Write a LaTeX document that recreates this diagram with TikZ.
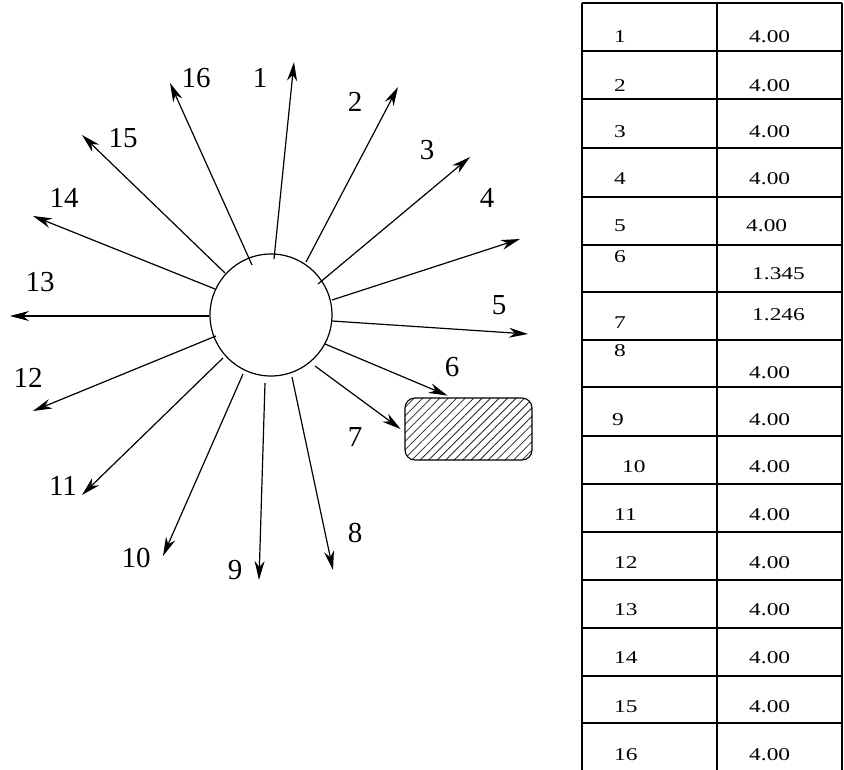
\documentclass[tikz,border=0pt]{standalone}
\usepackage{fontspec}
\setmainfont{Liberation Serif}
\usepackage{graphicx}
\usepackage{tikz}
\usetikzlibrary{arrows.meta, patterns.meta, calc}
\tikzset{
  ray/.style={-{Stealth[length=19pt, width=10pt, inset=6pt]}, line width=1.2pt},
  num/.style={font=\fontsize{29}{29}\selectfont, inner sep=0pt},
  cell/.style={font=\fontsize{18}{18}\selectfont, inner sep=0pt, anchor=west},
  rule/.style={line width=1.3pt},
}
\newcommand{\wide}[1]{\scalebox{1.3}[1]{#1}}

\begin{document}
\begin{tikzpicture}[x=1pt, y=-1pt]
  \useasboundingbox (0,0) rectangle (844,770);
  % hub and hatched target
  \node[circle, draw, line width=1.2pt, minimum size=122pt, inner sep=0pt] (hub) at (271,315) {};
  \node[draw, line width=1.1pt, rounded corners=10pt, minimum width=127pt, minimum height=62pt,
    pattern={Lines[angle=45, distance=6pt, line width=0.8pt]}, pattern color=black!85] (box) at (468.5,429) {};
  % ray starts
  \coordinate (s1) at (274,259);
  \coordinate (s2) at (306,262);
  \coordinate (s3) at (318,284);
  \coordinate (s4) at (332,300);
  \coordinate (s5) at (332,321);
  \coordinate (s6) at (325,344);
  \coordinate (s7) at (315,366);
  \coordinate (s8) at (292,377);
  \coordinate (s9) at (265,383);
  \coordinate (s10) at (243,374);
  \coordinate (s11) at (223,358);
  \coordinate (s12) at (216,336);
  \coordinate (s13) at (209,316);
  \coordinate (s14) at (215,289);
  \coordinate (s15) at (225,273);
  \coordinate (s16) at (252,265);
  % ray tips
  \coordinate (t1) at (294,62);
  \coordinate (t2) at (398,87);
  \coordinate (t3) at (470,157);
  \coordinate (t4) at (520,239);
  \coordinate (t5) at (528,334);
  \coordinate (t8) at (333,570);
  \coordinate (t9) at (259,580);
  \coordinate (t10) at (163,556);
  \coordinate (t11) at (82,495);
  \coordinate (t12) at (33,411);
  \coordinate (t13) at (10,316);
  \coordinate (t14) at (33,216);
  \coordinate (t15) at (82,135);
  \coordinate (t16) at (170,83);
  \draw[ray] (s1) -- (t1);
  \draw[ray] (s2) -- (t2);
  \draw[ray] (s3) -- (t3);
  \draw[ray] (s4) -- (t4);
  \draw[ray] (s5) -- (t5);
  \draw[ray] (s6) -- ($(box.north west)+(43,-2)$);
  \draw[ray] (s7) -- ([xshift=-4pt]box.west);
  \draw[ray] (s8) -- (t8);
  \draw[ray] (s9) -- (t9);
  \draw[ray] (s10) -- (t10);
  \draw[ray] (s11) -- (t11);
  \draw[ray] (s12) -- (t12);
  \draw[ray] (s13) -- (t13);
  \draw[ray] (s14) -- (t14);
  \draw[ray] (s15) -- (t15);
  \draw[ray] (s16) -- (t16);
  % ray labels
  \node[num] (l1) at (260,78) {1};
  \node[num] (l2) at (355,102) {2};
  \node[num] (l3) at (427,150) {3};
  \node[num] (l4) at (487,198) {4};
  \node[num] (l5) at (499,305) {5};
  \node[num] (l6) at (452,367) {6};
  \node[num] (l7) at (355,437) {7};
  \node[num] (l8) at (355,533) {8};
  \node[num] (l9) at (235,570) {9};
  \node[num] (l10) at (136,558) {10};
  \node[num] (l11) at (63,486) {11};
  \node[num] (l12) at (28,378) {12};
  \node[num] (l13) at (40,282) {13};
  \node[num] (l14) at (64,198) {14};
  \node[num] (l15) at (123,138) {15};
  \node[num] (l16) at (196,78) {16};
  % table
  \draw[rule] (582,3) -- (582,770);
  \draw[rule] (717,3) -- (717,770);
  \draw[rule] (842,3) -- (842,770);
  \foreach \y in {3,51,99,148,197,245,292,340,387,436,484,532,580,628,676,723}
    \draw[rule] (582,\y) -- (842,\y);
  \node[cell] (k1) at (614,37) {\wide{1}};   \node[cell] (v1) at (749,37) {\wide{4.00}};
  \node[cell] (k2) at (614,86) {\wide{2}};   \node[cell] (v2) at (749,86) {\wide{4.00}};
  \node[cell] (k3) at (614,132) {\wide{3}};  \node[cell] (v3) at (749,132) {\wide{4.00}};
  \node[cell] (k4) at (614,179) {\wide{4}};  \node[cell] (v4) at (749,179) {\wide{4.00}};
  \node[cell] (k5) at (614,226) {\wide{5}};  \node[cell] (v5) at (746,226) {\wide{4.00}};
  \node[cell] (k6) at (614,257) {\wide{6}};  \node[cell] (v6) at (752,274) {\wide{1.345}};
  \node[cell] (k7) at (614,323) {\wide{7}};  \node[cell] (v7) at (752,315) {\wide{1.246}};
  \node[cell] (k8) at (614,351) {\wide{8}};  \node[cell] (v8) at (749,373) {\wide{4.00}};
  \node[cell] (k9) at (612,420) {\wide{9}};  \node[cell] (v9) at (749,420) {\wide{4.00}};
  \node[cell] (k10) at (622,467) {\wide{10}}; \node[cell] (v10) at (749,467) {\wide{4.00}};
  \node[cell] (k11) at (614,515) {\wide{11}}; \node[cell] (v11) at (749,515) {\wide{4.00}};
  \node[cell] (k12) at (614,563) {\wide{12}}; \node[cell] (v12) at (749,563) {\wide{4.00}};
  \node[cell] (k13) at (614,610) {\wide{13}}; \node[cell] (v13) at (749,610) {\wide{4.00}};
  \node[cell] (k14) at (614,658) {\wide{14}}; \node[cell] (v14) at (749,658) {\wide{4.00}};
  \node[cell] (k15) at (614,707) {\wide{15}}; \node[cell] (v15) at (749,707) {\wide{4.00}};
  \node[cell] (k16) at (614,755) {\wide{16}}; \node[cell] (v16) at (749,755) {\wide{4.00}};
\end{tikzpicture}
\end{document}
